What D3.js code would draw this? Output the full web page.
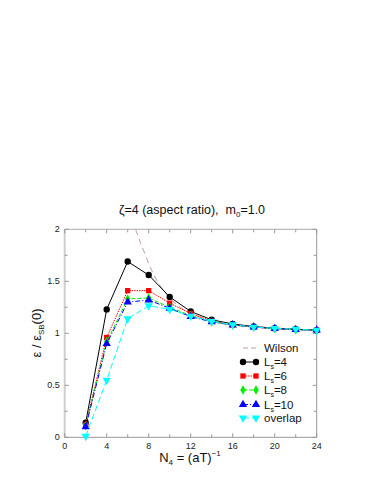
<!DOCTYPE html>
<html><head><meta charset="utf-8">
<script src="https://cdn.jsdelivr.net/npm/d3@7"></script>
<style>body{margin:0;background:#fff}svg{display:block}text{font-family:"Liberation Sans",Arial,sans-serif}</style>
</head><body>
<script>
const N4 = [2,4,6,8,10,12,14,16,18,20,22,24];
const ls4 = [0.14,1.23,1.69,1.56,1.35,1.21,1.13,1.09,1.065,1.05,1.04,1.03];
const ls6 = [0.12,0.96,1.41,1.41,1.29,1.19,1.12,1.08,1.06,1.045,1.038,1.03];
const ls8 = [0.11,0.92,1.33,1.34,1.25,1.17,1.11,1.08,1.06,1.045,1.035,1.03];
const ls10 = [0.10,0.90,1.30,1.32,1.24,1.16,1.11,1.08,1.06,1.045,1.035,1.03];
const overlap = [0.01,0.55,1.14,1.265,1.23,1.165,1.115,1.083,1.06,1.048,1.04,1.03];
const wilsonX = [6.75,7.0,7.25,7.5,8,8.5,9,9.5,10,11,12,13,14,16,18,20,22,24];
const wilsonY = [2.0,1.93,1.86,1.80,1.67,1.56,1.47,1.40,1.34,1.25,1.19,1.15,1.12,1.08,1.06,1.045,1.035,1.03];
const xTicks = [0,4,8,12,16,20,24];
const yTicks = [0,0.5,1,1.5,2];
const yTickLabels = ["0","0.5","1","1.5","2"];

const W=382,H=494;
const svg=d3.select("body").append("svg").attr("width",W).attr("height",H);
const x=d3.scaleLinear().domain([0,24]).range([64.7,316.7]);
const y=d3.scaleLinear().domain([0,2]).range([437.3,229.3]);

const g=svg.append("g");
g.append("line").attr("x1",x(0)).attr("x2",x(0)).attr("y1",y(0)).attr("y2",y(2)).attr("stroke","#cfcfcf").attr("stroke-width",2);
g.append("line").attr("x1",x(0)).attr("x2",x(24)).attr("y1",y(2)).attr("y2",y(2)).attr("stroke","#aaa");
g.append("line").attr("x1",x(24)).attr("x2",x(24)).attr("y1",y(0)).attr("y2",y(2)).attr("stroke","#999");
g.append("line").attr("x1",x(0)).attr("x2",x(24)).attr("y1",y(0)).attr("y2",y(0)).attr("stroke","#999");

const xMinor=d3.range(0,24.01,2), yMinor=d3.range(0,2.001,0.25);
xMinor.forEach(v=>{
  const L = (v%4===0)?4:3;
  g.append("line").attr("x1",x(v)).attr("x2",x(v)).attr("y1",y(0)).attr("y2",y(0)-L).attr("stroke","#999");
  g.append("line").attr("x1",x(v)).attr("x2",x(v)).attr("y1",y(2)).attr("y2",y(2)+L).attr("stroke","#999");
});
yMinor.forEach(v=>{
  const L = (Math.abs(v*2-Math.round(v*2))<1e-6)?4:3;
  g.append("line").attr("x1",x(0)).attr("x2",x(0)+L).attr("y1",y(v)).attr("y2",y(v)).attr("stroke","#999");
  g.append("line").attr("x1",x(24)).attr("x2",x(24)-L).attr("y1",y(v)).attr("y2",y(v)).attr("stroke","#999");
});
xTicks.forEach(v=>{
  svg.append("text").attr("x",x(v)).attr("y",y(0)+12).attr("text-anchor","middle").attr("font-size",9).attr("fill","#222").text(v);
});
yTicks.forEach((v,i)=>{
  svg.append("text").attr("x",x(0)-5).attr("y",y(v)+3).attr("text-anchor","end").attr("font-size",9).attr("fill","#222").text(yTickLabels[i]);
});

const t=svg.append("text").attr("x",192).attr("y",214).attr("text-anchor","middle").attr("font-size",12.5).attr("fill","#111");
t.append("tspan").text("ζ=4 (aspect ratio),\u00a0\u00a0m");
t.append("tspan").attr("font-size",8).attr("dy",3).text("0");
t.append("tspan").attr("dy",-3).text("=1.0");

const xl=svg.append("text").attr("x",190).attr("y",462).attr("text-anchor","middle").attr("font-size",13).attr("fill","#111");
xl.append("tspan").text("N");
xl.append("tspan").attr("font-size",8).attr("dy",3).text("4");
xl.append("tspan").attr("dy",-3).text(" = (aT)");
xl.append("tspan").attr("font-size",8).attr("dy",-6).text("−1");

const yl=svg.append("text").attr("transform","translate(41,333) rotate(-90)").attr("text-anchor","middle").attr("font-size",13).attr("fill","#111");
yl.append("tspan").text("ε / ε");
yl.append("tspan").attr("font-size",8).attr("dy",3).text("SB");
yl.append("tspan").attr("dy",-3).text("(0)");

svg.append("clipPath").attr("id","c").append("rect").attr("x",x(0)).attr("y",y(2)).attr("width",x(24)-x(0)).attr("height",y(0)-y(2));

const wline=d3.line().x(d=>x(d[0])).y(d=>y(d[1])).curve(d3.curveMonotoneX);
svg.append("path").attr("clip-path","url(#c)").datum(wilsonX.map((v,i)=>[v,wilsonY[i]]))
  .attr("d",wline).attr("fill","none").attr("stroke","#c89c9c").attr("stroke-width",1).attr("stroke-dasharray","6,4");

const series=[
  {name:"L_s=4",vals:ls4,color:"#000",dash:null,sym:d3.symbolCircle,size:32,rot:0},
  {name:"L_s=6",vals:ls6,color:"#ff0000",dash:"1.5,1",sym:d3.symbolSquare,size:28,rot:0},
  {name:"L_s=8",vals:ls8,color:"#00ee00",dash:"4,2",sym:d3.symbolDiamond,size:26,rot:0},
  {name:"L_s=10",vals:ls10,color:"#0000ff",dash:"5,2,1,2",sym:d3.symbolTriangle,size:30,rot:0},
  {name:"overlap",vals:overlap,color:"#00ffff",dash:"6,3",sym:d3.symbolTriangle,size:30,rot:180}
];
const line=d3.line().x(d=>x(d[0])).y(d=>y(d[1]));
series.forEach(s=>{
  const pts=N4.map((v,i)=>[v,s.vals[i]]);
  svg.append("path").datum(pts).attr("d",line).attr("fill","none").attr("stroke",s.color).attr("stroke-width",1)
    .attr("stroke-dasharray",s.dash);
  svg.selectAll(null).data(pts).enter().append("path")
    .attr("d",d3.symbol().type(s.sym).size(s.size))
    .attr("transform",d=>`translate(${x(d[0])},${y(d[1])}) rotate(${s.rot})`)
    .attr("fill",s.color);
});

const lx0=243,lx1=256,tx=264;
const ly=[348,362,376,390,404.5,418];
svg.append("line").attr("x1",lx0).attr("x2",lx1).attr("y1",ly[0]).attr("y2",ly[0]).attr("stroke","#c89c9c").attr("stroke-dasharray","5,3");
svg.append("text").attr("x",tx).attr("y",ly[0]+4).attr("font-size",11.5).attr("fill","#111").text("Wilson");
series.forEach((s,i)=>{
  const yy=ly[i+1];
  svg.append("line").attr("x1",lx0).attr("x2",lx1).attr("y1",yy).attr("y2",yy).attr("stroke",s.color).attr("stroke-dasharray",s.dash);
  [lx0,lx1].forEach(xx=>svg.append("path").attr("d",d3.symbol().type(s.sym).size(s.size)).attr("transform",`translate(${xx},${yy}) rotate(${s.rot})`).attr("fill",s.color));
  const tt=svg.append("text").attr("x",tx).attr("y",yy+4).attr("font-size",11.5).attr("fill","#111");
  if(s.name.startsWith("L_s")){
    tt.append("tspan").text("L");
    tt.append("tspan").attr("font-size",7).attr("dy",3).text("s");
    tt.append("tspan").attr("dy",-3).text(s.name.slice(3));
  } else tt.text(s.name);
});
</script>
</body></html>
